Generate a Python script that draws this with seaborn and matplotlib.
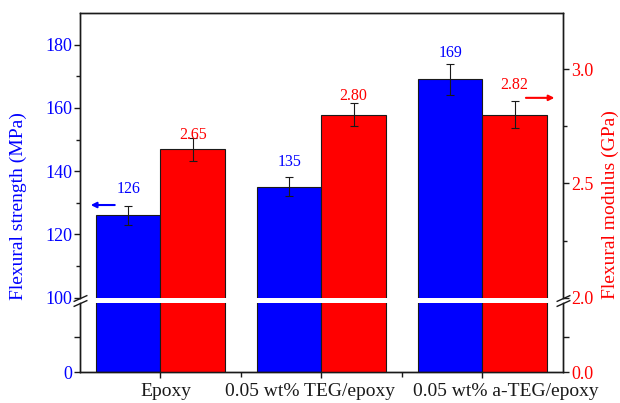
import numpy as np
import pandas as pd
import matplotlib
matplotlib.use("Agg")
import matplotlib.pyplot as plt
import matplotlib.transforms as mtransforms
import seaborn as sns

# ---------------- data ----------------
categories = ["Epoxy", "0.05 wt% TEG/epoxy", "0.05 wt% a-TEG/epoxy"]
strength = [126, 135, 169]
strength_err = [3, 3, 5]
strength_labels = ["126", "135", "169"]
modulus = [2.65, 2.80, 2.80]
modulus_err = [0.05, 0.05, 0.06]
modulus_labels = ["2.65", "2.80", "2.82"]

left_upper_ticks = [100, 120, 140, 160, 180]
left_upper_minor = [110, 130, 150, 170]
right_upper_ticks = [2.0, 2.5, 3.0]
right_upper_minor = [2.25, 2.75]

# ---------------- style ----------------
sns.set_theme(style="ticks")
plt.rcParams['font.family'] = ['Liberation Serif', 'DejaVu Serif']
BLUE = "#0000FF"
RED = "#FF0000"
pal = {"s": BLUE, "m": RED}

fig = plt.figure(figsize=(6.2, 4.03), dpi=100)
ax_up = fig.add_axes([0.129, 0.2613, 0.779, 0.7064])
ax_lo = fig.add_axes([0.129, 0.0769, 0.779, 0.1712])
ax_up_r = ax_up.twinx()
ax_lo_r = ax_lo.twinx()

df_s = pd.DataFrame({"cat": categories, "val": strength, "series": "s"})
df_m = pd.DataFrame({"cat": categories, "val": modulus, "series": "m"})

bar_kw = dict(x="cat", y="val", hue="series", hue_order=["s", "m"], order=categories,
              palette=pal, width=0.8, saturation=1, edgecolor="k", linewidth=0.8,
              errorbar=None, legend=False, dodge=True)
for a, ar in [(ax_up, ax_up_r), (ax_lo, ax_lo_r)]:
    sns.barplot(data=df_s, ax=a, **bar_kw)
    sns.barplot(data=df_m, ax=ar, **bar_kw)
    for x in (a, ar):
        x.set_xlim(-0.5, 2.5)
        x.set_xlabel("")
        x.set_ylabel("")
        for s in x.spines.values():
            s.set_linewidth(1.0)
            s.set_color("k")

ax_up.set_ylim(100, 190)
ax_up_r.set_ylim(2.0, 3.245)
ax_lo.set_ylim(0, 98.6)
ax_lo_r.set_ylim(0, 1.972)

for x in (ax_up, ax_up_r):
    x.spines["bottom"].set_visible(False)
    x.tick_params(axis="x", which="both", bottom=False, labelbottom=False)
for x in (ax_lo, ax_lo_r):
    x.spines["top"].set_visible(False)

# y ticks
ax_up.set_yticks(left_upper_ticks, [str(t) for t in left_upper_ticks])
ax_up.set_yticks(left_upper_minor, minor=True)
ax_up_r.set_yticks(right_upper_ticks, [f"{t:.1f}" for t in right_upper_ticks])
ax_up_r.set_yticks(right_upper_minor, minor=True)
ax_lo.set_yticks([0, 50], ["0", ""])
ax_lo_r.set_yticks([0.0, 1.0], ["0.0", ""])

for x in (ax_up, ax_lo):
    x.tick_params(axis="y", which="major", direction="out", length=4.3, width=1,
                  color="k", labelcolor=BLUE, labelsize=13, pad=1.5)
    x.tick_params(axis="y", which="minor", direction="out", length=3, width=1, color="k")
for x in (ax_up_r, ax_lo_r):
    x.tick_params(axis="y", which="major", direction="out", length=4.3, width=1,
                  color="k", labelcolor=RED, labelsize=13, pad=1.5)
    x.tick_params(axis="y", which="minor", direction="out", length=3, width=1, color="k")

ax_lo.set_xticks([0, 1, 2], categories)
ax_lo.set_xticks([0.5, 1.5], minor=True)
ax_lo.tick_params(axis="x", which="major", direction="out", length=4.3, width=1,
                  color="k", labelsize=14, labelcolor="k", pad=3.5)
ax_lo.tick_params(axis="x", which="minor", direction="out", length=3.3, width=1,
                  color="k", bottom=True)

# hand-placed category labels (horizontal shifts in pixels)
label_shift_px = [5, -11, 23]
for lab, dx in zip(ax_lo.get_xticklabels(), label_shift_px):
    lab.set_transform(lab.get_transform() +
                      mtransforms.ScaledTranslation(dx / 100, 0, fig.dpi_scale_trans))


def bar_centers(ax):
    pts = [p for p in ax.patches if np.isfinite(p.get_height()) and p.get_height() > 0]
    pts.sort(key=lambda p: p.get_x())
    return [p.get_x() + p.get_width() / 2 for p in pts]


# error bars and value labels
blue_off = [13, 12, 13.5]
red_off = [4.3, 7.9, 15.8]
bx = bar_centers(ax_up)
rx = bar_centers(ax_up_r)
ax_up.errorbar(bx, strength, yerr=strength_err, fmt="none", ecolor="k",
               elinewidth=0.8, capsize=2.6, capthick=0.8)
ax_up_r.errorbar(rx, modulus, yerr=modulus_err, fmt="none", ecolor="k",
                 elinewidth=0.8, capsize=2.6, capthick=0.8)
for xc, v, lab, o in zip(bx, strength, strength_labels, blue_off):
    ax_up.annotate(lab, xy=(xc, v), xytext=(0, o), textcoords="offset points",
                   ha="center", va="bottom", color=BLUE, fontsize=11.5)
for xc, v, lab, o in zip(rx, modulus, modulus_labels, red_off):
    ax_up_r.annotate(lab, xy=(xc, v), xytext=(0, o), textcoords="offset points",
                     ha="center", va="bottom", color=RED, fontsize=11.5)

# axis indicator arrows
ax_up.annotate("", xy=(-0.433, 129.3), xytext=(-0.284, 129.3),
               arrowprops=dict(arrowstyle="-|>", color=BLUE, lw=1.5, mutation_scale=8,
                               shrinkA=0, shrinkB=0))
ax_up_r.annotate("", xy=(2.447, 2.874), xytext=(2.27, 2.874),
                 arrowprops=dict(arrowstyle="-|>", color=RED, lw=1.5, mutation_scale=8,
                                 shrinkA=0, shrinkB=0))

# break marks
d = 0.45
kw = dict(marker=[(-1, -d), (1, d)], markersize=10, linestyle="none", color="k",
          mec="k", mew=1, clip_on=False)
ax_up_r.plot([0, 1], [0, 0], transform=ax_up_r.transAxes, **kw)
ax_lo_r.plot([0, 1], [1, 1], transform=ax_lo_r.transAxes, **kw)

# axis labels
fig.text(18.5 / 620, 1 - 206 / 403, "Flexural strength (MPa)", rotation=90,
         ha="center", va="center", color=BLUE, fontsize=14)
fig.text(610 / 620, 1 - 205 / 403, "Flexural modulus (GPa)", rotation=90,
         ha="center", va="center", color=RED, fontsize=14)

fig.savefig("out.png", dpi=100)
